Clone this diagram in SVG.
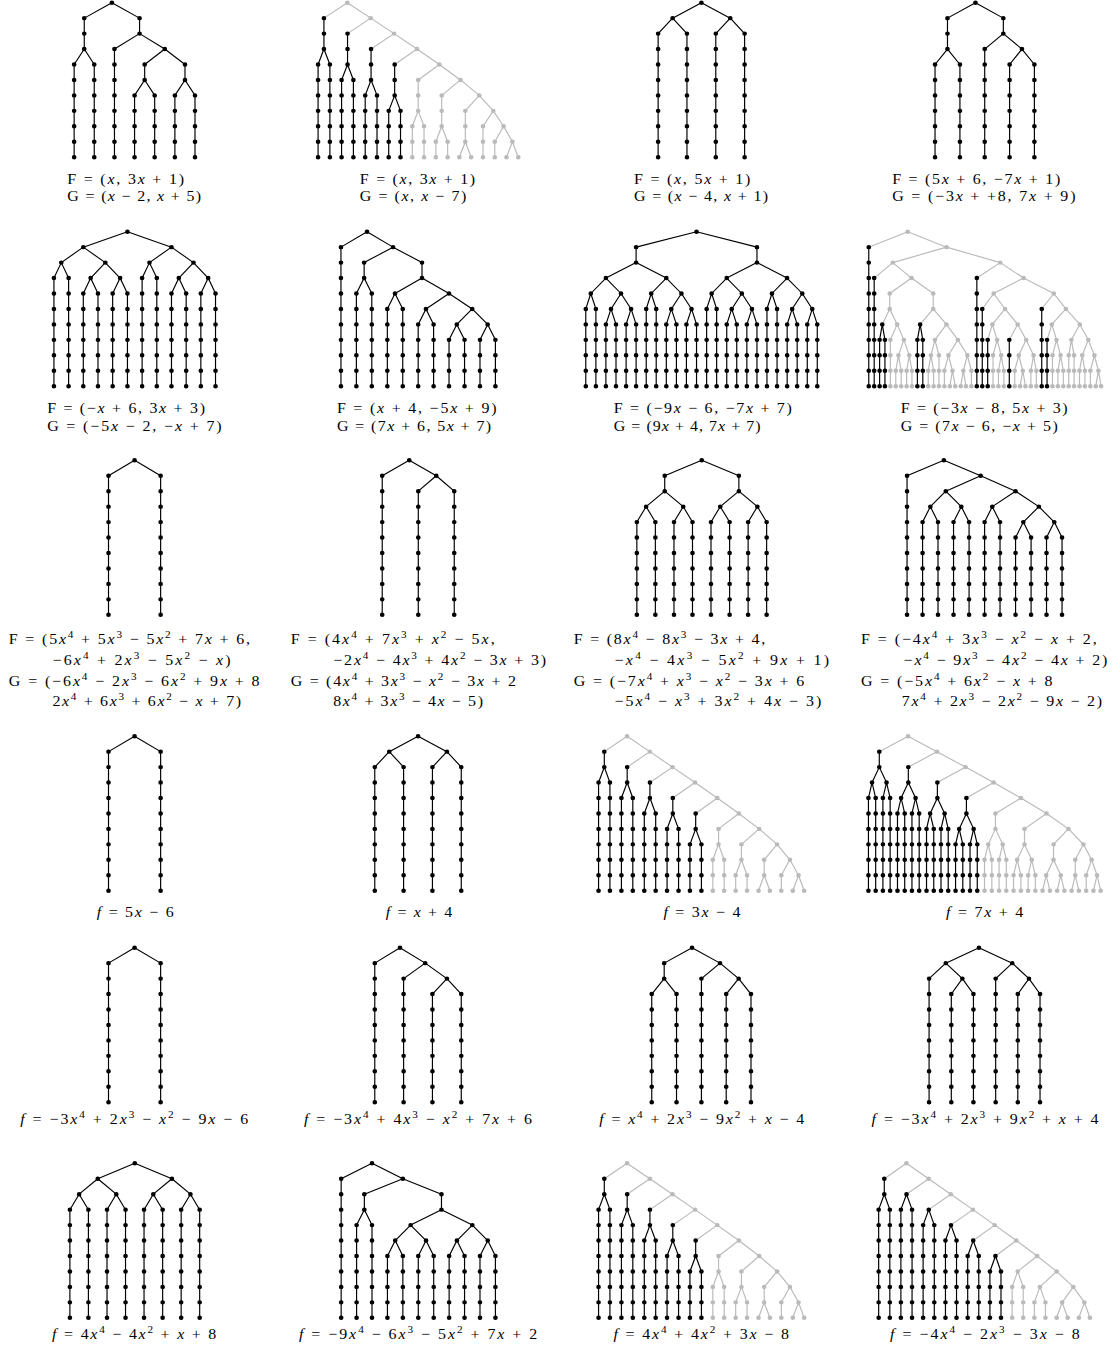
<svg xmlns="http://www.w3.org/2000/svg" width="1113" height="1354" viewBox="0 0 1113 1354" xml:space="preserve">
<style>
.e{fill:none;stroke:#000;stroke-width:1.1;stroke-linejoin:round}
.d{fill:none;stroke:#000;stroke-width:4.4;stroke-linecap:round;stroke-dasharray:0 15.449}
.eg{fill:none;stroke:#bababa;stroke-width:1.1;stroke-linejoin:round}
.dg{fill:none;stroke:#bababa;stroke-width:4.4;stroke-linecap:round;stroke-dasharray:0 15.449}
text{font-family:"Liberation Serif","Times New Roman",serif;font-size:15px;fill:#000}
.i{font-style:italic}
.s{font-size:10.5px}
</style>
<defs>
<path id="v1" d="M105.2 0v.01M79.2 15.45V46.35M69.7 61.8V154.5M88.6 61.8V154.5M131.2 15.45V30.9M107.6 46.35V154.5M154.9 46.35v.01M136 61.8V77.25M173.9 61.8V77.25M126.5 92.7V154.5M145.4 92.7V154.5M164.4 92.7V154.5M183.3 92.7V154.5"/>
<path id="v2" d="M304.5 15.45V46.35M299 61.8V154.5M310.1 61.8V154.5M326.7 30.9V61.8M321.1 77.25V154.5M332.2 77.25V154.5M348.8 46.35V77.25M343.3 92.7V154.5M354.4 92.7V154.5M371 61.8V92.7M365.4 108.15V154.5M376.5 108.15V154.5"/>
<path id="v2g" d="M326.5 0v.01M348.5 15.45v.01M370.4 30.9v.01M392 46.35v.01M413 61.8v.01M432.9 77.25v.01M450.5 92.7v.01M463.7 108.15v.01M473.4 123.6v.01M481.7 139.05v.01M393.1 77.25V108.15M387.6 123.6V154.5M398.6 123.6V154.5M415.2 92.7V123.6M409.7 139.05V154.5M420.8 139.05V154.5M437.4 108.15V139.05M431.8 154.5v.01M442.9 154.5v.01M454 123.6V154.5M465.1 139.05V154.5M476.1 154.5v.01M487.2 154.5v.01"/>
<path id="v3" d="M692.7 0v.01M665.6 15.45v.01M719.8 15.45v.01M652 30.9V154.5M679.1 30.9V154.5M706.2 30.9V154.5M733.3 30.9V154.5"/>
<path id="v4" d="M950.3 0v.01M924 15.45V46.35M912.3 61.8V154.5M935.7 61.8V154.5M976.5 15.45V30.9M959 46.35V154.5M994 46.35v.01M982.4 61.8V154.5M1005.7 61.8V154.5"/>
<path id="v5" d="M119.8 0v.01M78.3 15.45v.01M161.2 15.45v.01M57.6 30.9v.01M99 30.9v.01M140.5 30.9v.01M181.9 30.9v.01M85.2 46.35v.01M112.9 46.35v.01M168.1 46.35v.01M195.7 46.35v.01M50.7 46.35V154.5M64.5 46.35V154.5M133.6 46.35V154.5M147.4 46.35V154.5M78.3 61.8V154.5M92.1 61.8V154.5M105.9 61.8V154.5M119.8 61.8V154.5M161.2 61.8V154.5M175 61.8V154.5M188.8 61.8V154.5M202.6 61.8V154.5"/>
<path id="v6" d="M345 0v.01M320.5 15.45V154.5M369.5 15.45v.01M342.3 30.9V46.35M396.7 30.9V46.35M335 61.8V154.5M349.5 61.8V154.5M371.3 61.8v.01M422.1 61.8v.01M364.1 77.25V154.5M378.6 77.25V154.5M400.4 77.25v.01M443.9 77.25v.01M393.1 92.7V154.5M407.6 92.7V154.5M429.4 92.7v.01M458.4 92.7v.01M422.1 108.15V154.5M436.7 108.15V154.5M451.2 108.15V154.5M465.7 108.15V154.5"/>
<path id="v7" d="M688.1 0v.01M631.3 15.45V30.9M744.9 15.45V30.9M602.9 46.35v.01M659.7 46.35v.01M716.5 46.35v.01M773.2 46.35v.01M588.7 61.8v.01M617.1 61.8v.01M645.5 61.8v.01M673.9 61.8v.01M702.3 61.8v.01M730.7 61.8v.01M759 61.8v.01M787.5 61.8v.01M607.7 77.25v.01M626.6 77.25v.01M664.4 77.25v.01M683.4 77.25v.01M721.2 77.25v.01M740.2 77.25v.01M778 77.25v.01M796.9 77.25v.01M584 77.25V154.5M593.5 77.25V154.5M640.8 77.25V154.5M650.2 77.25V154.5M697.6 77.25V154.5M707 77.25V154.5M754.3 77.25V154.5M763.8 77.25V154.5M602.9 92.7V154.5M612.4 92.7V154.5M621.9 92.7V154.5M631.3 92.7V154.5M659.7 92.7V154.5M669.2 92.7V154.5M678.6 92.7V154.5M688.1 92.7V154.5M716.5 92.7V154.5M725.9 92.7V154.5M735.4 92.7V154.5M744.9 92.7V154.5M773.3 92.7V154.5M782.7 92.7V154.5M792.2 92.7V154.5M801.6 92.7V154.5"/>
<path id="v8g" d="M886.6 0v.01M923.1 15.45v.01M872.6 30.9v.01M973.6 30.9v.01M890.2 46.35v.01M995.6 46.35v.01M869.7 61.8V77.25M910.6 61.8V77.25M967.4 61.8v.01M1023.9 61.8v.01M978.1 77.25v.01M1035.3 77.25v.01M876.7 92.7v.01M923 92.7v.01M966.2 92.7v.01M990 92.7v.01M1022.1 92.7v.01M1048.4 92.7v.01M870.3 108.15V154.5M883 108.15v.01M912.2 108.15v.01M933.8 108.15v.01M970.7 108.15v.01M998 108.15v.01M1026.5 108.15v.01M1040.5 108.15v.01M1056.4 108.15v.01M877.9 123.6v.01M888.1 123.6v.01M908.4 123.6v.01M916 123.6V154.5M924.9 123.6v.01M942.7 123.6v.01M966.8 123.6V154.5M974.5 123.6v.01M991 123.6v.01M1004.9 123.6v.01M1022.7 123.6V154.5M1030.3 123.6v.01M1038 123.6V154.5M1043 123.6V154.5M1050.7 123.6v.01M1062.1 123.6v.01M875.4 139.05V154.5M880.5 139.05V154.5M885.6 139.05V154.5M890.6 139.05V154.5M905.9 139.05V154.5M911 139.05V154.5M921.1 139.05V154.5M928.7 139.05v.01M938.9 139.05v.01M946.5 139.05V154.5M971.9 139.05V154.5M977 139.05V154.5M987.2 139.05V154.5M994.8 139.05v.01M1002.4 139.05V154.5M1007.5 139.05V154.5M1027.8 139.05V154.5M1032.9 139.05V154.5M1048.1 139.05V154.5M1053.2 139.05V154.5M1058.3 139.05V154.5M1065.9 139.05v.01M926.2 154.5v.01M931.3 154.5v.01M936.4 154.5v.01M941.4 154.5v.01M992.2 154.5v.01M997.3 154.5v.01M1063.4 154.5v.01M1068.4 154.5v.01"/>
<path id="v8" d="M850 15.45V154.5M855.1 46.35V154.5M862.7 92.7v.01M860.2 108.15V154.5M865.2 108.15V154.5M898.3 92.7v.01M895.7 108.15V154.5M900.8 108.15V154.5M951.6 46.35V154.5M956.7 77.25V154.5M961.8 108.15V154.5M982.1 108.15V154.5M1012.6 77.25V154.5M1017.6 108.15V154.5"/>
<path id="v9" d="M126.5 0v.01M102 15.45V154.5M151 15.45V154.5"/>
<path id="d9" d="M102 15.45L126.5 0L151 15.45"/>
<path id="v10" d="M384.7 0v.01M359.3 15.45V154.5M410.1 15.45v.01M393.2 30.9V154.5M427 30.9V154.5"/>
<path id="v11" d="M693 0v.01M658.2 15.45V30.9M727.9 15.45V30.9M640.7 46.35v.01M675.6 46.35v.01M710.4 46.35v.01M745.3 46.35v.01M632 61.8V154.5M649.4 61.8V154.5M666.9 61.8V154.5M684.3 61.8V154.5M701.7 61.8V154.5M719.2 61.8V154.5M736.6 61.8V154.5M754 61.8V154.5"/>
<path id="v12" d="M920.6 0v.01M886 15.45V154.5M955.2 15.45v.01M922.4 30.9v.01M988 30.9v.01M907.9 46.35v.01M937 46.35v.01M966.1 46.35v.01M1009.9 46.35v.01M900.6 61.8V154.5M915.1 61.8V154.5M929.7 61.8V154.5M944.3 61.8V154.5M958.9 61.8V154.5M973.4 61.8V154.5M995.3 61.8v.01M1024.4 61.8v.01M988 77.25V154.5M1002.6 77.25V154.5M1017.1 77.25V154.5M1031.7 77.25V154.5"/>
<path id="v14" d="M393 0v.01M365.9 15.45v.01M420.1 15.45v.01M352.3 30.9V154.5M379.4 30.9V154.5M406.5 30.9V154.5M433.6 30.9V154.5"/>
<path id="v15" d="M601.4 15.45V30.9M596 46.35V154.5M606.7 46.35V154.5M622.9 30.9V46.35M617.5 61.8V154.5M628.2 61.8V154.5M644.3 46.35V61.8M639 77.25V154.5M649.7 77.25V154.5M665.8 61.8V77.25M660.4 92.7V154.5M671.2 92.7V154.5M687.3 77.25V92.7M681.9 108.15V154.5M692.7 108.15V154.5"/>
<path id="d15" d="M596 46.35L601.4 30.9L606.7 46.35M617.5 61.8L622.9 46.35L628.2 61.8M639 77.25L644.3 61.8L649.7 77.25M660.4 92.7L665.8 77.25L671.2 92.7M681.9 108.15L687.3 92.7L692.7 108.15"/>
<path id="v15g" d="M622.8 0v.01M644.2 15.45v.01M665.5 30.9v.01M686.7 46.35v.01M707.6 61.8v.01M727.9 77.25v.01M747 92.7v.01M763.8 108.15v.01M775.9 123.6v.01M784 139.05v.01M708.8 92.7V108.15M703.4 123.6V154.5M714.1 123.6V154.5M730.3 108.15V123.6M724.9 139.05V154.5M735.6 139.05V154.5M751.7 123.6V139.05M746.4 154.5v.01M757.1 154.5v.01M767.8 139.05V154.5M778.6 154.5v.01M789.3 154.5v.01"/>
<path id="d15g" d="M622.8 0L644.2 15.45L665.5 30.9L686.7 46.35L707.6 61.8L727.9 77.25L747 92.7L763.8 108.15L775.9 123.6L784 139.05L789.3 154.5M622.8 0L601.4 15.45M644.2 15.45L622.9 30.9M665.5 30.9L644.3 46.35M686.7 46.35L665.8 61.8M707.6 61.8L687.3 77.25M727.9 77.25L708.8 92.7M747 92.7L730.3 108.15M763.8 108.15L751.7 123.6M775.9 123.6L767.8 139.05M784 139.05L778.6 154.5M703.4 123.6L708.8 108.15L714.1 123.6M724.9 139.05L730.3 123.6L735.6 139.05M746.4 154.5L751.7 139.05L757.1 154.5"/>
<path id="v16" d="M859.9 15.45V30.9M853.1 46.35v.01M866.7 46.35v.01M849.7 61.8V154.5M856.5 61.8V154.5M863.3 61.8V154.5M870.1 61.8V154.5M887.2 30.9V46.35M880.4 61.8v.01M894 61.8v.01M877 77.25V154.5M883.8 77.25V154.5M890.6 77.25V154.5M897.4 77.25V154.5M914.5 46.35V61.8M907.7 77.25v.01M921.3 77.25v.01M904.3 92.7V154.5M911.1 92.7V154.5M917.9 92.7V154.5M924.7 92.7V154.5M941.8 61.8V77.25M935 92.7v.01M948.6 92.7v.01M931.6 108.15V154.5M938.4 108.15V154.5M945.2 108.15V154.5M952 108.15V154.5"/>
<path id="v16g" d="M887 0v.01M914.1 15.45v.01M941 30.9v.01M967.4 46.35v.01M993.1 61.8v.01M1017.1 77.25v.01M1037.7 92.7v.01M1051.8 108.15v.01M1059.5 123.6v.01M1064.6 139.05v.01M969.1 77.25V92.7M962.3 108.15v.01M975.9 108.15v.01M958.8 123.6V154.5M965.7 123.6V154.5M972.5 123.6V154.5M979.3 123.6V154.5M996.4 92.7V108.15M989.5 123.6v.01M1003.2 123.6v.01M986.1 139.05V154.5M993 139.05V154.5M999.8 139.05V154.5M1006.6 139.05V154.5M1023.7 108.15V123.6M1016.8 139.05v.01M1030.5 139.05v.01M1013.4 154.5v.01M1020.3 154.5v.01M1027.1 154.5v.01M1033.9 154.5v.01M1044.1 123.6V139.05M1040.7 154.5v.01M1047.5 154.5v.01M1054.4 139.05V154.5M1061.2 154.5v.01M1068 154.5v.01"/>
<path id="v18" d="M376 0v.01M352.3 15.45V154.5M399.7 15.45v.01M379.4 30.9V154.5M420.1 30.9v.01M406.5 46.35V154.5M433.6 46.35V154.5"/>
<path id="v19" d="M683.9 0v.01M657.7 15.45V30.9M646 46.35V154.5M669.3 46.35V154.5M710.2 15.45v.01M692.7 30.9V154.5M727.7 30.9v.01M716 46.35V154.5M739.3 46.35V154.5"/>
<path id="v20" d="M953.6 0v.01M922.4 15.45v.01M984.9 15.45v.01M906.7 30.9V154.5M938 30.9v.01M969.3 30.9V154.5M1000.6 30.9v.01M927.6 46.35V154.5M948.4 46.35V154.5M990.1 46.35V154.5M1011 46.35V154.5"/>
<path id="v21" d="M126.7 0v.01M91.9 15.45v.01M161.6 15.45v.01M74.4 30.9v.01M109.3 30.9v.01M144.1 30.9v.01M179 30.9v.01M65.7 46.35V154.5M83.1 46.35V154.5M100.6 46.35V154.5M118 46.35V154.5M135.4 46.35V154.5M152.9 46.35V154.5M170.3 46.35V154.5M187.7 46.35V154.5"/>
<path id="v22" d="M349.7 0v.01M320.7 15.45V154.5M378.7 15.45v.01M342.5 30.9V46.35M415 30.9V46.35M335.2 61.8V154.5M349.7 61.8V154.5M386 61.8v.01M444 61.8v.01M371.5 77.25v.01M400.5 77.25v.01M429.5 77.25v.01M458.5 77.25v.01M364.2 92.7V154.5M378.7 92.7V154.5M393.2 92.7V154.5M407.7 92.7V154.5M422.2 92.7V154.5M436.7 92.7V154.5M451.2 92.7V154.5M465.7 92.7V154.5"/>
<path id="v24" d="M864.6 15.45V30.9M859.3 46.35V154.5M869.8 46.35V154.5M885.5 30.9v.01M880.2 46.35V154.5M890.7 46.35V154.5M906.4 46.35v.01M901.1 61.8V154.5M911.6 61.8V154.5M927.3 61.8v.01M922.1 77.25V154.5M932.5 77.25V154.5M948.2 77.25v.01M943 92.7V154.5M953.4 92.7V154.5M969.1 92.7v.01M963.9 108.15V154.5M974.3 108.15V154.5"/>
<path id="v24g" d="M885.4 0v.01M906.3 15.45v.01M927.1 30.9v.01M947.9 46.35v.01M968.4 61.8v.01M988.7 77.25v.01M1008.3 92.7v.01M1026.6 108.15v.01M1042.3 123.6v.01M1052.7 139.05v.01M990 108.15v.01M984.8 123.6V154.5M995.2 123.6V154.5M1010.9 123.6v.01M1005.7 139.05V154.5M1016.1 139.05V154.5M1031.8 139.05v.01M1026.6 154.5v.01M1037 154.5v.01M1047.5 154.5v.01M1057.9 154.5v.01"/>
</defs>

<g id="left-half" transform="matrix(1.0638 0 0 1 0 0)">

<g id="panel-1">
<g transform="translate(0,2.7)">
<use href="#v1" class="e"/>
<path class="e" d="M79.2 15.45L105.2 0L131.2 15.45M69.7 61.8L79.2 46.35L88.6 61.8M107.6 46.35L131.2 30.9L154.9 46.35M136 61.8L154.9 46.35L173.9 61.8M126.5 92.7L136 77.25L145.4 92.7M164.4 92.7L173.9 77.25L183.3 92.7"/>
<use href="#v1" class="d"/>
</g>
<text x="63.3" y="183.8" textLength="109.7" lengthAdjust="spacing">F = (<tspan class="i">x</tspan>, 3<tspan class="i">x</tspan> + 1)</text>
<text x="63.3" y="201.3" textLength="125.7" lengthAdjust="spacing">G = (<tspan class="i">x</tspan> − 2, <tspan class="i">x</tspan> + 5)</text>
</g>

<g id="panel-2">
<g transform="translate(0,2.7)">
<use href="#v2g" class="eg"/>
<path class="eg" d="M326.5 0L348.5 15.45L370.4 30.9L392 46.35L413 61.8L432.9 77.25L450.5 92.7L463.7 108.15L473.4 123.6L481.7 139.05L487.2 154.5M326.5 0L304.5 15.45M348.5 15.45L326.7 30.9M370.4 30.9L348.8 46.35M392 46.35L371 61.8M413 61.8L393.1 77.25M432.9 77.25L415.2 92.7M450.5 92.7L437.4 108.15M463.7 108.15L454 123.6M473.4 123.6L465.1 139.05M481.7 139.05L476.1 154.5M387.6 123.6L393.1 108.15L398.6 123.6M409.7 139.05L415.2 123.6L420.8 139.05M431.8 154.5L437.4 139.05L442.9 154.5"/>
<use href="#v2g" class="dg"/>
<use href="#v2" class="e"/>
<path class="e" d="M299 61.8L304.5 46.35L310.1 61.8M321.1 77.25L326.7 61.8L332.2 77.25M343.3 92.7L348.8 77.25L354.4 92.7M365.4 108.15L371 92.7L376.5 108.15"/>
<use href="#v2" class="d"/>
</g>
<text x="338.3" y="183.8" textLength="108.4" lengthAdjust="spacing">F = (<tspan class="i">x</tspan>, 3<tspan class="i">x</tspan> + 1)</text>
<text x="338.3" y="201.3" textLength="100" lengthAdjust="spacing">G = (<tspan class="i">x</tspan>, <tspan class="i">x</tspan> − 7)</text>
</g>

<g id="panel-5">
<g transform="translate(0,231.7)">
<use href="#v5" class="e"/>
<path class="e" d="M78.3 15.45L119.8 0L161.2 15.45M57.6 30.9L78.3 15.45L99 30.9M140.5 30.9L161.2 15.45L181.9 30.9M50.7 46.35L57.6 30.9L64.5 46.35M85.2 46.35L99 30.9L112.9 46.35M133.6 46.35L140.5 30.9L147.4 46.35M168.1 46.35L181.9 30.9L195.7 46.35M78.3 61.8L85.2 46.35L92.1 61.8M105.9 61.8L112.9 46.35L119.8 61.8M161.2 61.8L168.1 46.35L175 61.8M188.8 61.8L195.7 46.35L202.6 61.8"/>
<use href="#v5" class="d"/>
</g>
<text x="44.3" y="413.2" textLength="148.4" lengthAdjust="spacing">F = (−<tspan class="i">x</tspan> + 6, 3<tspan class="i">x</tspan> + 3)</text>
<text x="44.3" y="430.7" textLength="164" lengthAdjust="spacing">G = (−5<tspan class="i">x</tspan> − 2, −<tspan class="i">x</tspan> + 7)</text>
</g>

<g id="panel-6">
<g transform="translate(0,231.7)">
<use href="#v6" class="e"/>
<path class="e" d="M320.5 15.45L345 0L369.5 15.45M342.3 30.9L369.5 15.45L396.7 30.9M335 61.8L342.3 46.35L349.5 61.8M371.3 61.8L396.7 46.35L422.1 61.8M364.1 77.25L371.3 61.8L378.6 77.25M400.4 77.25L422.1 61.8L443.9 77.25M393.1 92.7L400.4 77.25L407.6 92.7M429.4 92.7L443.9 77.25L458.4 92.7M422.1 108.15L429.4 92.7L436.7 108.15M451.2 108.15L458.4 92.7L465.7 108.15"/>
<use href="#v6" class="d"/>
</g>
<text x="316.7" y="413.2" textLength="150" lengthAdjust="spacing">F = (<tspan class="i">x</tspan> + 4, −5<tspan class="i">x</tspan> + 9)</text>
<text x="316.7" y="430.7" textLength="145" lengthAdjust="spacing">G = (7<tspan class="i">x</tspan> + 6, 5<tspan class="i">x</tspan> + 7)</text>
</g>

<g id="panel-9">
<g transform="translate(0,460.3)">
<use href="#v9" class="e"/><use href="#d9" class="e"/><use href="#v9" class="d"/>
</g>
<text x="8.3" y="644.5" textLength="226.7" lengthAdjust="spacing">F = (5<tspan class="i">x</tspan><tspan class="s" dy="-6">4</tspan><tspan dy="6"> + 5</tspan><tspan class="i">x</tspan><tspan class="s" dy="-6">3</tspan><tspan dy="6"> − 5</tspan><tspan class="i">x</tspan><tspan class="s" dy="-6">2</tspan><tspan dy="6"> + 7</tspan><tspan class="i">x</tspan> + 6,</text>
<text x="49.3" y="665.5" textLength="167.4" lengthAdjust="spacing">−6<tspan class="i">x</tspan><tspan class="s" dy="-6">4</tspan><tspan dy="6"> + 2</tspan><tspan class="i">x</tspan><tspan class="s" dy="-6">3</tspan><tspan dy="6"> − 5</tspan><tspan class="i">x</tspan><tspan class="s" dy="-6">2</tspan><tspan dy="6"> − </tspan><tspan class="i">x</tspan>)</text>
<text x="8.3" y="686" textLength="235.7" lengthAdjust="spacing">G = (−6<tspan class="i">x</tspan><tspan class="s" dy="-6">4</tspan><tspan dy="6"> − 2</tspan><tspan class="i">x</tspan><tspan class="s" dy="-6">3</tspan><tspan dy="6"> − 6</tspan><tspan class="i">x</tspan><tspan class="s" dy="-6">2</tspan><tspan dy="6"> + 9</tspan><tspan class="i">x</tspan> + 8</text>
<text x="49.3" y="706.5" textLength="177.4" lengthAdjust="spacing">2<tspan class="i">x</tspan><tspan class="s" dy="-6">4</tspan><tspan dy="6"> + 6</tspan><tspan class="i">x</tspan><tspan class="s" dy="-6">3</tspan><tspan dy="6"> + 6</tspan><tspan class="i">x</tspan><tspan class="s" dy="-6">2</tspan><tspan dy="6"> − </tspan><tspan class="i">x</tspan> + 7)</text>
</g>

<g id="panel-10">
<g transform="translate(0,460.3)">
<use href="#v10" class="e"/>
<path class="e" d="M359.3 15.45L384.7 0L410.1 15.45M393.2 30.9L410.1 15.45L427 30.9"/>
<use href="#v10" class="d"/>
</g>
<text x="273.3" y="644.5" textLength="191.7" lengthAdjust="spacing">F = (4<tspan class="i">x</tspan><tspan class="s" dy="-6">4</tspan><tspan dy="6"> + 7</tspan><tspan class="i">x</tspan><tspan class="s" dy="-6">3</tspan><tspan dy="6"> + </tspan><tspan class="i">x</tspan><tspan class="s" dy="-6">2</tspan><tspan dy="6"> − 5</tspan><tspan class="i">x</tspan>,</text>
<text x="313.3" y="665.5" textLength="200" lengthAdjust="spacing">−2<tspan class="i">x</tspan><tspan class="s" dy="-6">4</tspan><tspan dy="6"> − 4</tspan><tspan class="i">x</tspan><tspan class="s" dy="-6">3</tspan><tspan dy="6"> + 4</tspan><tspan class="i">x</tspan><tspan class="s" dy="-6">2</tspan><tspan dy="6"> − 3</tspan><tspan class="i">x</tspan> + 3)</text>
<text x="273.3" y="686" textLength="211.7" lengthAdjust="spacing">G = (4<tspan class="i">x</tspan><tspan class="s" dy="-6">4</tspan><tspan dy="6"> + 3</tspan><tspan class="i">x</tspan><tspan class="s" dy="-6">3</tspan><tspan dy="6"> − </tspan><tspan class="i">x</tspan><tspan class="s" dy="-6">2</tspan><tspan dy="6"> − 3</tspan><tspan class="i">x</tspan> + 2</text>
<text x="313.3" y="706.5" textLength="140.7" lengthAdjust="spacing">8<tspan class="i">x</tspan><tspan class="s" dy="-6">4</tspan><tspan dy="6"> + 3</tspan><tspan class="i">x</tspan><tspan class="s" dy="-6">3</tspan><tspan dy="6"> − 4</tspan><tspan class="i">x</tspan> − 5)</text>
</g>

<g id="panel-13">
<g transform="translate(0,736.2)">
<use href="#v9" class="e"/><use href="#d9" class="e"/><use href="#v9" class="d"/>
</g>
<text x="91" y="917" textLength="72.3" lengthAdjust="spacing"><tspan class="i">f</tspan> = 5<tspan class="i">x</tspan> − 6</text>
</g>

<g id="panel-14">
<g transform="translate(0,736.2)">
<use href="#v14" class="e"/>
<path class="e" d="M365.9 15.45L393 0L420.1 15.45M352.3 30.9L365.9 15.45L379.4 30.9M406.5 30.9L420.1 15.45L433.6 30.9"/>
<use href="#v14" class="d"/>
</g>
<text x="362.7" y="917" textLength="62.3" lengthAdjust="spacing"><tspan class="i">f</tspan> = <tspan class="i">x</tspan> + 4</text>
</g>

<g id="panel-17">
<g transform="translate(0,947.7)">
<use href="#v9" class="e"/><use href="#d9" class="e"/><use href="#v9" class="d"/>
</g>
<text x="19" y="1124" textLength="214.3" lengthAdjust="spacing"><tspan class="i">f</tspan> = −3<tspan class="i">x</tspan><tspan class="s" dy="-6">4</tspan><tspan dy="6"> + 2</tspan><tspan class="i">x</tspan><tspan class="s" dy="-6">3</tspan><tspan dy="6"> − </tspan><tspan class="i">x</tspan><tspan class="s" dy="-6">2</tspan><tspan dy="6"> − 9</tspan><tspan class="i">x</tspan> − 6</text>
</g>

<g id="panel-18">
<g transform="translate(0,947.7)">
<use href="#v18" class="e"/>
<path class="e" d="M352.3 15.45L376 0L399.7 15.45M379.4 30.9L399.7 15.45L420.1 30.9M406.5 46.35L420.1 30.9L433.6 46.35"/>
<use href="#v18" class="d"/>
</g>
<text x="285.7" y="1124" textLength="214.3" lengthAdjust="spacing"><tspan class="i">f</tspan> = −3<tspan class="i">x</tspan><tspan class="s" dy="-6">4</tspan><tspan dy="6"> + 4</tspan><tspan class="i">x</tspan><tspan class="s" dy="-6">3</tspan><tspan dy="6"> − </tspan><tspan class="i">x</tspan><tspan class="s" dy="-6">2</tspan><tspan dy="6"> + 7</tspan><tspan class="i">x</tspan> + 6</text>
</g>

<g id="panel-21">
<g transform="translate(0,1163.3)">
<use href="#v21" class="e"/>
<path class="e" d="M91.9 15.45L126.7 0L161.6 15.45M74.4 30.9L91.9 15.45L109.3 30.9M144.1 30.9L161.6 15.45L179 30.9M65.7 46.35L74.4 30.9L83.1 46.35M100.6 46.35L109.3 30.9L118 46.35M135.4 46.35L144.1 30.9L152.9 46.35M170.3 46.35L179 30.9L187.7 46.35"/>
<use href="#v21" class="d"/>
</g>
<text x="49" y="1339" textLength="154.3" lengthAdjust="spacing"><tspan class="i">f</tspan> = 4<tspan class="i">x</tspan><tspan class="s" dy="-6">4</tspan><tspan dy="6"> − 4</tspan><tspan class="i">x</tspan><tspan class="s" dy="-6">2</tspan><tspan dy="6"> + </tspan><tspan class="i">x</tspan> + 8</text>
</g>

<g id="panel-22">
<g transform="translate(0,1163.3)">
<use href="#v22" class="e"/>
<path class="e" d="M320.7 15.45L349.7 0L378.7 15.45M342.5 30.9L378.7 15.45L415 30.9M335.2 61.8L342.5 46.35L349.7 61.8M386 61.8L415 46.35L444 61.8M371.5 77.25L386 61.8L400.5 77.25M429.5 77.25L444 61.8L458.5 77.25M364.2 92.7L371.5 77.25L378.7 92.7M393.2 92.7L400.5 77.25L407.7 92.7M422.2 92.7L429.5 77.25L436.7 92.7M451.2 92.7L458.5 77.25L465.7 92.7"/>
<use href="#v22" class="d"/>
</g>
<text x="281" y="1339" textLength="224" lengthAdjust="spacing"><tspan class="i">f</tspan> = −9<tspan class="i">x</tspan><tspan class="s" dy="-6">4</tspan><tspan dy="6"> − 6</tspan><tspan class="i">x</tspan><tspan class="s" dy="-6">3</tspan><tspan dy="6"> − 5</tspan><tspan class="i">x</tspan><tspan class="s" dy="-6">2</tspan><tspan dy="6"> + 7</tspan><tspan class="i">x</tspan> + 2</text>
</g>
</g>

<g id="right-half" transform="matrix(1.0638 0 0 1 -35.47 0)">

<g id="panel-3">
<g transform="translate(0,2.7)">
<use href="#v3" class="e"/>
<path class="e" d="M665.6 15.45L692.7 0L719.8 15.45M652 30.9L665.6 15.45L679.1 30.9M706.2 30.9L719.8 15.45L733.3 30.9"/>
<use href="#v3" class="d"/>
</g>
<text x="629.3" y="183.8" textLength="109.4" lengthAdjust="spacing">F = (<tspan class="i">x</tspan>, 5<tspan class="i">x</tspan> + 1)</text>
<text x="629.3" y="201.3" textLength="126" lengthAdjust="spacing">G = (<tspan class="i">x</tspan> − 4, <tspan class="i">x</tspan> + 1)</text>
</g>

<g id="panel-4">
<g transform="translate(0,2.7)">
<use href="#v4" class="e"/>
<path class="e" d="M924 15.45L950.3 0L976.5 15.45M912.3 61.8L924 46.35L935.7 61.8M959 46.35L976.5 30.9L994 46.35M982.4 61.8L994 46.35L1005.7 61.8"/>
<use href="#v4" class="d"/>
</g>
<text x="872" y="183.8" textLength="158" lengthAdjust="spacing">F = (5<tspan class="i">x</tspan> + 6, −7<tspan class="i">x</tspan> + 1)</text>
<text x="872" y="201.3" textLength="172.3" lengthAdjust="spacing">G = (−3<tspan class="i">x</tspan> + +8, 7<tspan class="i">x</tspan> + 9)</text>
</g>

<g id="panel-7">
<g transform="translate(0,231.7)">
<use href="#v7" class="e"/>
<path class="e" d="M631.3 15.45L688.1 0L744.9 15.45M602.9 46.35L631.3 30.9L659.7 46.35M716.5 46.35L744.9 30.9L773.2 46.35M588.7 61.8L602.9 46.35L617.1 61.8M584 77.25L588.7 61.8L593.5 77.25M607.7 77.25L617.1 61.8L626.6 77.25M602.9 92.7L607.7 77.25L612.4 92.7M621.9 92.7L626.6 77.25L631.3 92.7M645.5 61.8L659.7 46.35L673.9 61.8M640.8 77.25L645.5 61.8L650.2 77.25M664.4 77.25L673.9 61.8L683.4 77.25M659.7 92.7L664.4 77.25L669.2 92.7M678.6 92.7L683.4 77.25L688.1 92.7M702.3 61.8L716.5 46.35L730.7 61.8M697.6 77.25L702.3 61.8L707 77.25M721.2 77.25L730.7 61.8L740.2 77.25M716.5 92.7L721.2 77.25L725.9 92.7M735.4 92.7L740.2 77.25L744.9 92.7M759 61.8L773.2 46.35L787.5 61.8M754.3 77.25L759 61.8L763.8 77.25M778 77.25L787.5 61.8L796.9 77.25M773.3 92.7L778 77.25L782.7 92.7M792.2 92.7L796.9 77.25L801.6 92.7"/>
<use href="#v7" class="d"/>
</g>
<text x="610.3" y="413.2" textLength="167.4" lengthAdjust="spacing">F = (−9<tspan class="i">x</tspan> − 6, −7<tspan class="i">x</tspan> + 7)</text>
<text x="610.3" y="430.7" textLength="138" lengthAdjust="spacing">G = (9<tspan class="i">x</tspan> + 4, 7<tspan class="i">x</tspan> + 7)</text>
</g>

<g id="panel-8">
<g transform="translate(0,231.7)">
<use href="#v8g" class="eg"/>
<path class="eg" d="M850 15.45L886.6 0L923.1 15.45M872.6 30.9L923.1 15.45L973.6 30.9M855.1 46.35L872.6 30.9L890.2 46.35M951.6 46.35L973.6 30.9L995.6 46.35M869.7 61.8L890.2 46.35L910.6 61.8M967.4 61.8L995.6 46.35L1023.9 61.8M862.7 92.7L869.7 77.25L876.7 92.7M898.3 92.7L910.6 77.25L923 92.7M956.7 77.25L967.4 61.8L978.1 77.25M1012.6 77.25L1023.9 61.8L1035.3 77.25M966.2 92.7L978.1 77.25L990 92.7M1022.1 92.7L1035.3 77.25L1048.4 92.7M870.3 108.15L876.7 92.7L883 108.15M912.2 108.15L923 92.7L933.8 108.15M961.8 108.15L966.2 92.7L970.7 108.15M982.1 108.15L990 92.7L998 108.15M1017.6 108.15L1022.1 92.7L1026.5 108.15M1040.5 108.15L1048.4 92.7L1056.4 108.15M877.9 123.6L883 108.15L888.1 123.6M908.4 123.6L912.2 108.15L916 123.6M924.9 123.6L933.8 108.15L942.7 123.6M966.8 123.6L970.7 108.15L974.5 123.6M991 123.6L998 108.15L1004.9 123.6M1022.7 123.6L1026.5 108.15L1030.3 123.6M1038 123.6L1040.5 108.15L1043 123.6M1050.7 123.6L1056.4 108.15L1062.1 123.6M875.4 139.05L877.9 123.6L880.5 139.05M885.6 139.05L888.1 123.6L890.6 139.05M905.9 139.05L908.4 123.6L911 139.05M921.1 139.05L924.9 123.6L928.7 139.05M938.9 139.05L942.7 123.6L946.5 139.05M971.9 139.05L974.5 123.6L977 139.05M987.2 139.05L991 123.6L994.8 139.05M1002.4 139.05L1004.9 123.6L1007.5 139.05M1027.8 139.05L1030.3 123.6L1032.9 139.05M1048.1 139.05L1050.7 123.6L1053.2 139.05M1058.3 139.05L1062.1 123.6L1065.9 139.05M926.2 154.5L928.7 139.05L931.3 154.5M936.4 154.5L938.9 139.05L941.4 154.5M992.2 154.5L994.8 139.05L997.3 154.5M1063.4 154.5L1065.9 139.05L1068.4 154.5"/>
<use href="#v8g" class="dg"/>
<use href="#v8" class="e"/>
<path class="e" d="M860.2 108.15L862.7 92.7L865.2 108.15M895.7 108.15L898.3 92.7L900.8 108.15"/>
<use href="#v8" class="d"/>
</g>
<text x="880" y="413.2" textLength="157" lengthAdjust="spacing">F = (−3<tspan class="i">x</tspan> − 8, 5<tspan class="i">x</tspan> + 3)</text>
<text x="880" y="430.7" textLength="147.7" lengthAdjust="spacing">G = (7<tspan class="i">x</tspan> − 6, −<tspan class="i">x</tspan> + 5)</text>
</g>

<g id="panel-11">
<g transform="translate(0,460.3)">
<use href="#v11" class="e"/>
<path class="e" d="M658.2 15.45L693 0L727.9 15.45M640.7 46.35L658.2 30.9L675.6 46.35M710.4 46.35L727.9 30.9L745.3 46.35M632 61.8L640.7 46.35L649.4 61.8M666.9 61.8L675.6 46.35L684.3 61.8M701.7 61.8L710.4 46.35L719.2 61.8M736.6 61.8L745.3 46.35L754 61.8"/>
<use href="#v11" class="d"/>
</g>
<text x="572.7" y="644.5" textLength="180" lengthAdjust="spacing">F = (8<tspan class="i">x</tspan><tspan class="s" dy="-6">4</tspan><tspan dy="6"> − 8</tspan><tspan class="i">x</tspan><tspan class="s" dy="-6">3</tspan><tspan dy="6"> − 3</tspan><tspan class="i">x</tspan> + 4,</text>
<text x="611" y="665.5" textLength="201.7" lengthAdjust="spacing">−<tspan class="i">x</tspan><tspan class="s" dy="-6">4</tspan><tspan dy="6"> − 4</tspan><tspan class="i">x</tspan><tspan class="s" dy="-6">3</tspan><tspan dy="6"> − 5</tspan><tspan class="i">x</tspan><tspan class="s" dy="-6">2</tspan><tspan dy="6"> + 9</tspan><tspan class="i">x</tspan>  +  1)</text>
<text x="572.7" y="686" textLength="216.6" lengthAdjust="spacing">G = (−7<tspan class="i">x</tspan><tspan class="s" dy="-6">4</tspan><tspan dy="6"> + </tspan><tspan class="i">x</tspan><tspan class="s" dy="-6">3</tspan><tspan dy="6"> − </tspan><tspan class="i">x</tspan><tspan class="s" dy="-6">2</tspan><tspan dy="6"> − 3</tspan><tspan class="i">x</tspan> + 6</text>
<text x="611" y="706.5" textLength="194.3" lengthAdjust="spacing">−5<tspan class="i">x</tspan><tspan class="s" dy="-6">4</tspan><tspan dy="6"> − </tspan><tspan class="i">x</tspan><tspan class="s" dy="-6">3</tspan><tspan dy="6"> + 3</tspan><tspan class="i">x</tspan><tspan class="s" dy="-6">2</tspan><tspan dy="6"> + 4</tspan><tspan class="i">x</tspan> − 3)</text>
</g>

<g id="panel-12">
<g transform="translate(0,460.3)">
<use href="#v12" class="e"/>
<path class="e" d="M886 15.45L920.6 0L955.2 15.45M922.4 30.9L955.2 15.45L988 30.9M907.9 46.35L922.4 30.9L937 46.35M966.1 46.35L988 30.9L1009.9 46.35M900.6 61.8L907.9 46.35L915.1 61.8M929.7 61.8L937 46.35L944.3 61.8M958.9 61.8L966.1 46.35L973.4 61.8M995.3 61.8L1009.9 46.35L1024.4 61.8M988 77.25L995.3 61.8L1002.6 77.25M1017.1 77.25L1024.4 61.8L1031.7 77.25"/>
<use href="#v12" class="d"/>
</g>
<text x="842.7" y="644.5" textLength="221.6" lengthAdjust="spacing">F = (−4<tspan class="i">x</tspan><tspan class="s" dy="-6">4</tspan><tspan dy="6"> + 3</tspan><tspan class="i">x</tspan><tspan class="s" dy="-6">3</tspan><tspan dy="6"> − </tspan><tspan class="i">x</tspan><tspan class="s" dy="-6">2</tspan><tspan dy="6"> − </tspan><tspan class="i">x</tspan> + 2,</text>
<text x="882.7" y="665.5" textLength="191.6" lengthAdjust="spacing">−<tspan class="i">x</tspan><tspan class="s" dy="-6">4</tspan><tspan dy="6"> − 9</tspan><tspan class="i">x</tspan><tspan class="s" dy="-6">3</tspan><tspan dy="6"> − 4</tspan><tspan class="i">x</tspan><tspan class="s" dy="-6">2</tspan><tspan dy="6"> − 4</tspan><tspan class="i">x</tspan> + 2)</text>
<text x="842.7" y="686" textLength="180" lengthAdjust="spacing">G = (−5<tspan class="i">x</tspan><tspan class="s" dy="-6">4</tspan><tspan dy="6"> + 6</tspan><tspan class="i">x</tspan><tspan class="s" dy="-6">2</tspan><tspan dy="6"> − </tspan><tspan class="i">x</tspan> + 8</text>
<text x="881" y="706.5" textLength="188.3" lengthAdjust="spacing">7<tspan class="i">x</tspan><tspan class="s" dy="-6">4</tspan><tspan dy="6"> + 2</tspan><tspan class="i">x</tspan><tspan class="s" dy="-6">3</tspan><tspan dy="6"> − 2</tspan><tspan class="i">x</tspan><tspan class="s" dy="-6">2</tspan><tspan dy="6"> − 9</tspan><tspan class="i">x</tspan> − 2)</text>
</g>

<g id="panel-15">
<g transform="translate(0,736.2)">
<use href="#v15g" class="eg"/><use href="#d15g" class="eg"/><use href="#v15g" class="dg"/>
<use href="#v15" class="e"/><use href="#d15" class="e"/><use href="#v15" class="d"/>
</g>
<text x="657" y="917" textLength="72.3" lengthAdjust="spacing"><tspan class="i">f</tspan> = 3<tspan class="i">x</tspan> − 4</text>
</g>

<g id="panel-16">
<g transform="translate(0,736.2)">
<use href="#v16g" class="eg"/>
<path class="eg" d="M887 0L914.1 15.45L941 30.9L967.4 46.35L993.1 61.8L1017.1 77.25L1037.7 92.7L1051.8 108.15L1059.5 123.6L1064.6 139.05L1068 154.5M887 0L859.9 15.45M914.1 15.45L887.2 30.9M941 30.9L914.5 46.35M967.4 46.35L941.8 61.8M993.1 61.8L969.1 77.25M1017.1 77.25L996.4 92.7M1037.7 92.7L1023.7 108.15M1051.8 108.15L1044.1 123.6M1059.5 123.6L1054.4 139.05M1064.6 139.05L1061.2 154.5M962.3 108.15L969.1 92.7L975.9 108.15M958.8 123.6L962.3 108.15L965.7 123.6M972.5 123.6L975.9 108.15L979.3 123.6M989.5 123.6L996.4 108.15L1003.2 123.6M986.1 139.05L989.5 123.6L993 139.05M999.8 139.05L1003.2 123.6L1006.6 139.05M1016.8 139.05L1023.7 123.6L1030.5 139.05M1013.4 154.5L1016.8 139.05L1020.3 154.5M1027.1 154.5L1030.5 139.05L1033.9 154.5M1040.7 154.5L1044.1 139.05L1047.5 154.5"/>
<use href="#v16g" class="dg"/>
<use href="#v16" class="e"/>
<path class="e" d="M853.1 46.35L859.9 30.9L866.7 46.35M849.7 61.8L853.1 46.35L856.5 61.8M863.3 61.8L866.7 46.35L870.1 61.8M880.4 61.8L887.2 46.35L894 61.8M877 77.25L880.4 61.8L883.8 77.25M890.6 77.25L894 61.8L897.4 77.25M907.7 77.25L914.5 61.8L921.3 77.25M904.3 92.7L907.7 77.25L911.1 92.7M917.9 92.7L921.3 77.25L924.7 92.7M935 92.7L941.8 77.25L948.6 92.7M931.6 108.15L935 92.7L938.4 108.15M945.2 108.15L948.6 92.7L952 108.15"/>
<use href="#v16" class="d"/>
</g>
<text x="922.7" y="917" textLength="72.6" lengthAdjust="spacing"><tspan class="i">f</tspan> = 7<tspan class="i">x</tspan> + 4</text>
</g>

<g id="panel-19">
<g transform="translate(0,947.7)">
<use href="#v19" class="e"/>
<path class="e" d="M657.7 15.45L683.9 0L710.2 15.45M646 46.35L657.7 30.9L669.3 46.35M692.7 30.9L710.2 15.45L727.7 30.9M716 46.35L727.7 30.9L739.3 46.35"/>
<use href="#v19" class="d"/>
</g>
<text x="596.7" y="1124" textLength="192.6" lengthAdjust="spacing"><tspan class="i">f</tspan> = <tspan class="i">x</tspan><tspan class="s" dy="-6">4</tspan><tspan dy="6"> + 2</tspan><tspan class="i">x</tspan><tspan class="s" dy="-6">3</tspan><tspan dy="6"> − 9</tspan><tspan class="i">x</tspan><tspan class="s" dy="-6">2</tspan><tspan dy="6"> + </tspan><tspan class="i">x</tspan> − 4</text>
</g>

<g id="panel-20">
<g transform="translate(0,947.7)">
<use href="#v20" class="e"/>
<path class="e" d="M922.4 15.45L953.6 0L984.9 15.45M906.7 30.9L922.4 15.45L938 30.9M969.3 30.9L984.9 15.45L1000.6 30.9M927.6 46.35L938 30.9L948.4 46.35M990.1 46.35L1000.6 30.9L1011 46.35"/>
<use href="#v20" class="d"/>
</g>
<text x="852.7" y="1124" textLength="213.3" lengthAdjust="spacing"><tspan class="i">f</tspan> = −3<tspan class="i">x</tspan><tspan class="s" dy="-6">4</tspan><tspan dy="6"> + 2</tspan><tspan class="i">x</tspan><tspan class="s" dy="-6">3</tspan><tspan dy="6"> + 9</tspan><tspan class="i">x</tspan><tspan class="s" dy="-6">2</tspan><tspan dy="6"> + </tspan><tspan class="i">x</tspan> + 4</text>
</g>

<g id="panel-23">
<g transform="translate(0,1163.3)">
<use href="#v15g" class="eg"/><use href="#d15g" class="eg"/><use href="#v15g" class="dg"/>
<use href="#v15" class="e"/><use href="#d15" class="e"/><use href="#v15" class="d"/>
</g>
<text x="610" y="1339" textLength="165" lengthAdjust="spacing"><tspan class="i">f</tspan> = 4<tspan class="i">x</tspan><tspan class="s" dy="-6">4</tspan><tspan dy="6"> + 4</tspan><tspan class="i">x</tspan><tspan class="s" dy="-6">2</tspan><tspan dy="6"> + 3</tspan><tspan class="i">x</tspan> − 8</text>
</g>

<g id="panel-24">
<g transform="translate(0,1163.3)">
<use href="#v24g" class="eg"/>
<path class="eg" d="M885.4 0L906.3 15.45L927.1 30.9L947.9 46.35L968.4 61.8L988.7 77.25L1008.3 92.7L1026.6 108.15L1042.3 123.6L1052.7 139.05L1057.9 154.5M885.4 0L864.6 15.45M906.3 15.45L885.5 30.9M927.1 30.9L906.4 46.35M947.9 46.35L927.3 61.8M968.4 61.8L948.2 77.25M988.7 77.25L969.1 92.7M1008.3 92.7L990 108.15M1026.6 108.15L1010.9 123.6M1042.3 123.6L1031.8 139.05M1052.7 139.05L1047.5 154.5M984.8 123.6L990 108.15L995.2 123.6M1005.7 139.05L1010.9 123.6L1016.1 139.05M1026.6 154.5L1031.8 139.05L1037 154.5"/>
<use href="#v24g" class="dg"/>
<use href="#v24" class="e"/>
<path class="e" d="M859.3 46.35L864.6 30.9L869.8 46.35M880.2 46.35L885.5 30.9L890.7 46.35M901.1 61.8L906.4 46.35L911.6 61.8M922.1 77.25L927.3 61.8L932.5 77.25M943 92.7L948.2 77.25L953.4 92.7M963.9 108.15L969.1 92.7L974.3 108.15"/>
<use href="#v24" class="d"/>
</g>
<text x="870" y="1339" textLength="178.3" lengthAdjust="spacing"><tspan class="i">f</tspan> = −4<tspan class="i">x</tspan><tspan class="s" dy="-6">4</tspan><tspan dy="6"> − 2</tspan><tspan class="i">x</tspan><tspan class="s" dy="-6">3</tspan><tspan dy="6"> − 3</tspan><tspan class="i">x</tspan> − 8</text>
</g>
</g>
</svg>
